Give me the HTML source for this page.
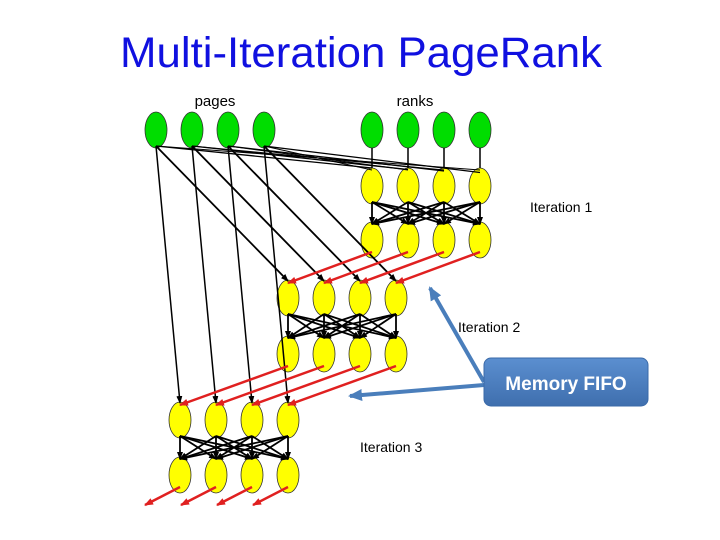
<!DOCTYPE html>
<html><head><meta charset="utf-8"><style>
html,body{margin:0;padding:0;background:#fff;width:720px;height:540px;overflow:hidden}
svg{display:block}
</style></head><body>
<svg id="s" width="720" height="540" viewBox="0 0 720 540" xmlns="http://www.w3.org/2000/svg">
<defs>
<marker id="ab" markerWidth="8" markerHeight="6" refX="7" refY="3" orient="auto" markerUnits="userSpaceOnUse"><path d="M0,0 L8,3 L0,6 z" fill="#000"/></marker>
<marker id="ar" markerWidth="9" markerHeight="7" refX="8" refY="3.5" orient="auto" markerUnits="userSpaceOnUse"><path d="M0,0 L9,3.5 L0,7 z" fill="#e02020"/></marker>
<marker id="abl" markerWidth="14" markerHeight="12" refX="12" refY="6" orient="auto" markerUnits="userSpaceOnUse"><path d="M0,0 L14,6 L0,12 z" fill="#4a7ebb"/></marker>
<linearGradient id="bg" x1="0" y1="0" x2="0" y2="1"><stop offset="0" stop-color="#5b8fd0"/><stop offset="1" stop-color="#3f6fae"/></linearGradient>
</defs>
<g id="nodes"></g>
<g id="lines"></g>
<text x="361" y="67" font-family="Liberation Sans, sans-serif" font-size="43" fill="#1010e0" text-anchor="middle" textLength="482" lengthAdjust="spacingAndGlyphs">Multi-Iteration PageRank</text>
<text x="215" y="106" font-family="Liberation Sans, sans-serif" font-size="15" fill="#000" text-anchor="middle">pages</text>
<text x="415" y="106" font-family="Liberation Sans, sans-serif" font-size="15" fill="#000" text-anchor="middle">ranks</text>
<text x="530" y="212" font-family="Liberation Sans, sans-serif" font-size="14" fill="#000">Iteration 1</text>
<text x="458" y="332" font-family="Liberation Sans, sans-serif" font-size="14" fill="#000">Iteration 2</text>
<text x="360" y="452" font-family="Liberation Sans, sans-serif" font-size="14" fill="#000">Iteration 3</text>
<line x1="484" y1="382" x2="430" y2="288" stroke="#4a7ebb" stroke-width="4" marker-end="url(#abl)"/>
<line x1="484" y1="385" x2="350" y2="396" stroke="#4a7ebb" stroke-width="4" marker-end="url(#abl)"/>
<rect x="484" y="358" width="164" height="48" rx="7" fill="url(#bg)" stroke="#3a6aa8"/>
<text x="566" y="390" font-family="Liberation Sans, sans-serif" font-size="19" font-weight="bold" fill="#fff" text-anchor="middle">Memory FIFO</text>
</svg>
<script>
var NS="http://www.w3.org/2000/svg",L=document.getElementById('lines'),N=document.getElementById('nodes');
function ln(x1,y1,x2,y2,c,w,m){var e=document.createElementNS(NS,'line');e.setAttribute('x1',x1);e.setAttribute('y1',y1);e.setAttribute('x2',x2);e.setAttribute('y2',y2);e.setAttribute('stroke',c);e.setAttribute('stroke-width',w);if(m)e.setAttribute('marker-end','url(#'+m+')');L.appendChild(e);}
function el(cx,cy,f){var e=document.createElementNS(NS,'ellipse');e.setAttribute('cx',cx);e.setAttribute('cy',cy);e.setAttribute('rx',11);e.setAttribute('ry',18);e.setAttribute('fill',f);e.setAttribute('stroke','#333');e.setAttribute('stroke-width',0.8);N.appendChild(e);}
var P=[156,192,228,264],R=[372,408,444,480];
var it=[{x:[372,408,444,480],t:186,b:240},{x:[288,324,360,396],t:298,b:354},{x:[180,216,252,288],t:420,b:475}];
P.forEach(function(p){el(p,130,'#00dd00');});
R.forEach(function(r){el(r,130,'#00dd00');});
it.forEach(function(g){g.x.forEach(function(x){el(x,g.t,'#ffff00');el(x,g.b,'#ffff00');});});
P.forEach(function(p,i){
 ln(p,146,R[i],168+i*1.5,'#000',1.3);
 ln(p,146,R[3-i],170,'#000',1.0);
 ln(p,146,it[1].x[i],281,'#000',1.8,'ab');
 ln(p,146,it[2].x[i],403,'#000',1.5,'ab');
});
R.forEach(function(r){ln(r,148,r,168,'#000',1.5);});
it.forEach(function(g){g.x.forEach(function(a){g.x.forEach(function(b){ln(a,g.t+16,b,g.b-16,'#000',1.8,'ab');});});});
it[0].x.forEach(function(x,j){ln(x,252,it[1].x[j],283,'#e02020',2.5,'ar');});
it[1].x.forEach(function(x,j){ln(x,366,it[2].x[j],405,'#e02020',2.5,'ar');});
it[2].x.forEach(function(x){ln(x,487,x-35,505,'#e02020',2.5,'ar');});
</script>
</body></html>
